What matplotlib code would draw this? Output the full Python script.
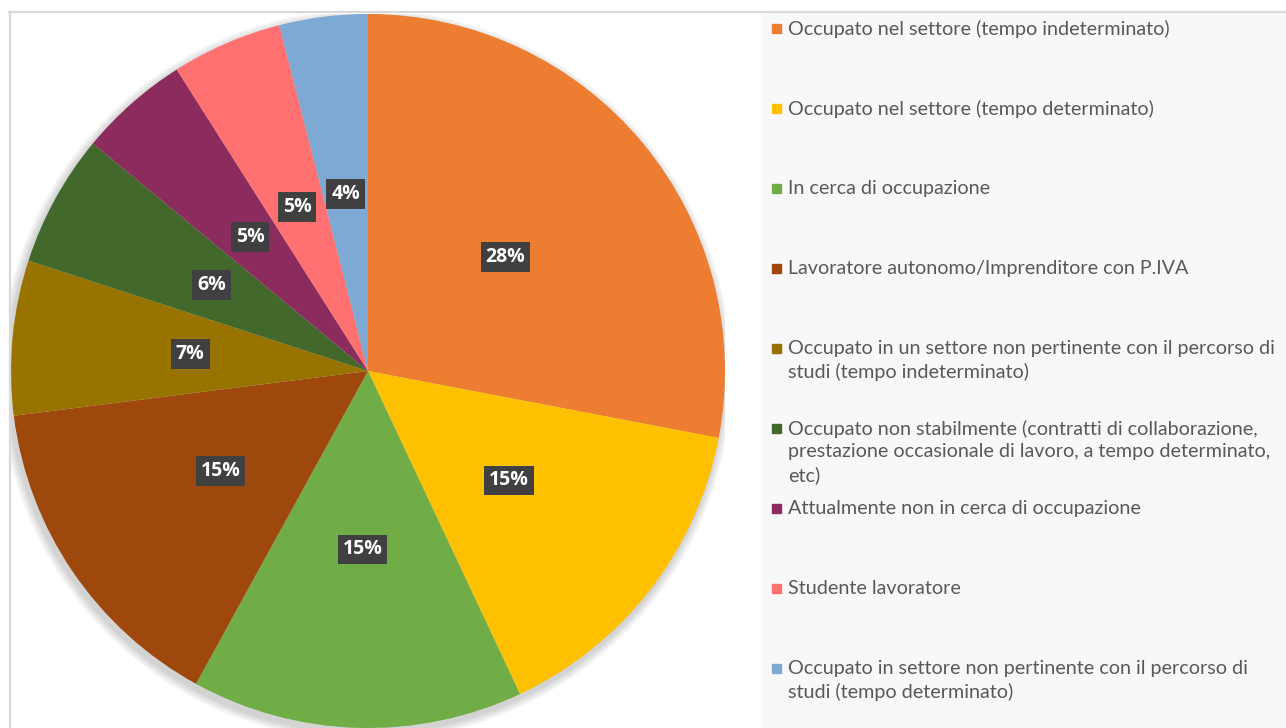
import matplotlib.pyplot as plt
from matplotlib.patches import Circle, Rectangle
from matplotlib.lines import Line2D

labels = [
    "Occupato nel settore (tempo indeterminato)",
    "Occupato nel settore (tempo determinato)",
    "In cerca di occupazione",
    "Lavoratore autonomo/Imprenditore con P.IVA",
    "Occupato in un settore non pertinente con il percorso di\nstudi (tempo indeterminato)",
    "Occupato non stabilmente (contratti di collaborazione,\nprestazione occasionale di lavoro, a tempo determinato,\netc)",
    "Attualmente non in cerca di occupazione",
    "Studente lavoratore",
    "Occupato in settore non pertinente con il percorso di\nstudi (tempo determinato)",
]
values = [28, 15, 15, 15, 7, 6, 5, 5, 4]
colors = ["#ED7D31", "#FFC000", "#70AD47", "#9E480E", "#997300",
          "#43682B", "#8B2B5E", "#FF7070", "#7FA9D5"]

W, H = 1286, 728
fig = plt.figure(figsize=(W / 100, H / 100), dpi=100)
fig.patch.set_facecolor("white")

# legend background and frame
fig.patches.append(Rectangle((762 / W, 0), (W - 762) / W, (H - 13) / H,
                             transform=fig.transFigure, color="#f8f8f8", zorder=0))
fig.lines.append(Line2D([9 / W, 1], [1 - 11.5 / H, 1 - 11.5 / H], transform=fig.transFigure,
                        color="#d9d9d9", lw=1.6))
fig.lines.append(Line2D([9.5 / W, 9.5 / W], [0, 1 - 11.5 / H], transform=fig.transFigure,
                        color="#d9d9d9", lw=1.6))

cx, cy, r = 368, 371, 357
ax = fig.add_axes([(cx - r) / W, (H - cy - r) / H, 2 * r / W, 2 * r / H])

# soft shadow, mostly below / left
for i in range(5):
    ax.add_patch(Circle((-0.006, -0.012), 1.0 + 0.005 * (5 - i), color="#000000",
                        alpha=0.035, lw=0, zorder=0))

wedges, texts, autotexts = ax.pie(
    values, colors=colors, startangle=90, counterclock=False,
    autopct="%d%%", pctdistance=0.5, radius=1.0,
    wedgeprops=dict(linewidth=0),
    textprops=dict(color="white", fontsize=14, fontweight="bold", family="Open Sans"),
)
for w in wedges:
    w.set_zorder(2)
for t in autotexts:
    t.set_zorder(5)
    t.set_bbox(dict(boxstyle="square,pad=0.25", facecolor="#404040", edgecolor="none"))
ax.set_xlim(-1, 1)
ax.set_ylim(-1, 1)
ax.axis("off")

# legend
for i, (lab, col) in enumerate(zip(labels, colors)):
    y = 28 + 80 * i
    fig.patches.append(Rectangle((772 / W, 1 - (y + 4.5) / H), 9 / W, 9 / H,
                                 transform=fig.transFigure, color=col, zorder=3))
    fig.text(788 / W, 1 - (y - 8) / H, lab, fontsize=14.2, color="#595959",
             family="Lato", va="top", ha="left", linespacing=1.37)

fig.savefig("out.png", dpi=100)
